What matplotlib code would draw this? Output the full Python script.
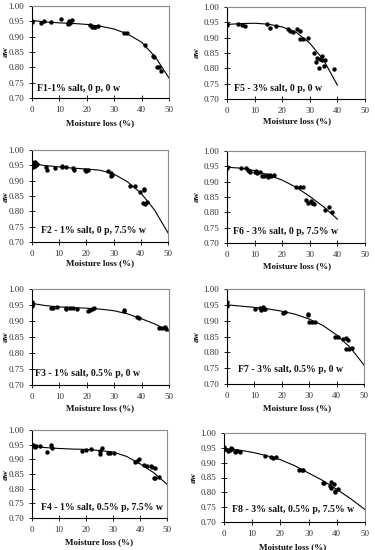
import matplotlib
matplotlib.use("Agg")
import matplotlib.pyplot as plt

plt.rcParams['font.family'] = ['Liberation Serif', 'DejaVu Serif']

W, H = 375, 550

# ---------------- data ----------------
titles = ["F1-1% salt, 0 p, 0 w", "F5 - 3% salt, 0 p, 0 w",
          "F2 - 1% salt, 0 p, 7.5% w", "F6 - 3% salt, 0 p, 7.5% w",
          "F3 - 1% salt, 0.5% p, 0 w", "F7 - 3% salt, 0.5% p, 0 w",
          "F4 - 1% salt, 0.5% p, 7.5% w", "F8 - 3% salt, 0.5% p, 7.5% w"]
xlabels = ["Moisture loss (%)"] * 7 + ["Moistute loss (%)"]
ylabel = "aw"
xticks = [0, 10, 20, 30, 40, 50]
yticks = [0.70, 0.75, 0.80, 0.85, 0.90, 0.95, 1.00]

f1_x = [0, 0, 3.4, 4.3, 6.9, 10.5, 13, 13.3, 13.6, 14, 14.5, 21, 21.8, 22.5, 23, 24, 33.5, 34.5, 41.3, 44.3, 44.7, 45.5, 46.5, 47.2]
f1_y = [0.952, 0.948, 0.946, 0.952, 0.948, 0.957, 0.945, 0.941, 0.95, 0.946, 0.955, 0.938, 0.933, 0.930, 0.932, 0.935, 0.911, 0.912, 0.873, 0.838, 0.834, 0.800, 0.800, 0.788]
f1_cx = [0, 5, 10, 15, 20, 25, 30, 35, 40, 45, 50]
f1_cy = [0.953, 0.948, 0.945, 0.943, 0.940, 0.934, 0.925, 0.908, 0.882, 0.834, 0.765]

f5_x = [0, 0, 3.9, 5.4, 6.6, 14.5, 15.7, 17.7, 22, 22.8, 24, 25.3, 26.3, 26.5, 27.5, 29.5, 31.7, 32.2, 32.7, 33.4, 33.6, 34.3, 34.6, 35.2, 35.4, 38.9]
f5_y = [0.945, 0.940, 0.943, 0.941, 0.937, 0.945, 0.932, 0.937, 0.929, 0.923, 0.917, 0.927, 0.921, 0.895, 0.895, 0.899, 0.850, 0.821, 0.833, 0.800, 0.832, 0.828, 0.839, 0.806, 0.826, 0.798]
f5_cx = [0, 5, 10, 15, 20, 25, 30, 35, 40]
f5_cy = [0.943, 0.946, 0.947, 0.944, 0.935, 0.918, 0.882, 0.827, 0.745]

f2_x = [0, 0.3, 0.5, 0, 0.5, 1, 1.5, 2, 1, 5, 5.5, 8.6, 11, 11, 12.5, 15, 15.5, 19.5, 20, 20.5, 28, 29, 29.5, 29.2, 36.2, 37.8, 39.6, 41, 41.3, 40.7, 41.5, 42.2]
f2_y = [0.962, 0.958, 0.955, 0.948, 0.945, 0.960, 0.950, 0.955, 0.948, 0.944, 0.936, 0.940, 0.949, 0.945, 0.945, 0.940, 0.935, 0.934, 0.930, 0.935, 0.933, 0.926, 0.920, 0.916, 0.882, 0.881, 0.862, 0.868, 0.873, 0.826, 0.825, 0.830]
f2_cx = [0, 5, 10, 15, 20, 25, 30, 35, 40, 45, 50]
f2_cy = [0.955, 0.949, 0.945, 0.941, 0.938, 0.934, 0.922, 0.897, 0.860, 0.805, 0.730]

f6_x = [0, 0, 4.9, 7, 7.5, 8, 8.5, 10, 10.5, 11, 12, 12.5, 13.5, 14.5, 15, 15.5, 16, 17, 25, 26.5, 27.5, 28.5, 29.5, 30.5, 31, 31.5, 30.7, 35.5, 37.1, 38]
f6_y = [0.948, 0.945, 0.943, 0.943, 0.938, 0.935, 0.932, 0.930, 0.935, 0.928, 0.933, 0.920, 0.918, 0.921, 0.916, 0.922, 0.918, 0.921, 0.883, 0.881, 0.884, 0.840, 0.829, 0.838, 0.832, 0.828, 0.831, 0.807, 0.816, 0.802]
f6_cx = [0, 5, 10, 15, 20, 25, 30, 35, 40]
f6_cy = [0.947, 0.944, 0.936, 0.922, 0.905, 0.882, 0.852, 0.818, 0.778]

f3_x = [0, 0, 0, 0, 7, 7.5, 9, 12.5, 12.5, 14, 15, 16.5, 20.5, 21, 22, 22.5, 33.5, 33.5, 38.5, 39, 46.5, 47.5, 48.5, 49]
f3_y = [0.960, 0.955, 0.948, 0.952, 0.942, 0.942, 0.943, 0.940, 0.937, 0.940, 0.940, 0.937, 0.930, 0.933, 0.938, 0.940, 0.930, 0.935, 0.912, 0.908, 0.877, 0.878, 0.880, 0.875]
f3_cx = [0, 5, 10, 15, 20, 25, 30, 35, 40, 45, 50]
f3_cy = [0.955, 0.948, 0.944, 0.942, 0.940, 0.937, 0.932, 0.922, 0.907, 0.890, 0.868]

f7_x = [0, 0, 10.4, 12, 12.5, 13, 13.5, 14, 20.5, 21, 29.5, 29.5, 30, 31, 32, 39.5, 40.5, 42.5, 43.5, 44, 43.5, 44.5, 45.5]
f7_y = [0.960, 0.947, 0.937, 0.940, 0.935, 0.942, 0.938, 0.936, 0.923, 0.926, 0.921, 0.917, 0.897, 0.897, 0.895, 0.847, 0.850, 0.843, 0.845, 0.840, 0.810, 0.812, 0.813]
f7_cx = [0, 5, 10, 15, 20, 25, 30, 35, 40, 45, 50]
f7_cy = [0.950, 0.946, 0.942, 0.937, 0.930, 0.920, 0.905, 0.885, 0.855, 0.815, 0.760]

f4_x = [0, 0, 0.5, 1, 1.5, 3, 5.6, 7, 7.5, 18.4, 20, 22, 25, 25, 26, 28, 29, 30.5, 38, 39, 39.5, 41.5, 42.5, 44, 44.5, 45.5, 45, 45.5, 47]
f4_y = [0.950, 0.945, 0.948, 0.943, 0.944, 0.946, 0.926, 0.950, 0.940, 0.930, 0.933, 0.935, 0.928, 0.918, 0.940, 0.922, 0.920, 0.920, 0.890, 0.895, 0.900, 0.880, 0.878, 0.878, 0.875, 0.870, 0.836, 0.838, 0.840]
f4_cx = [0, 5, 10, 15, 20, 25, 30, 35, 40, 45, 50]
f4_cy = [0.945, 0.940, 0.937, 0.935, 0.934, 0.930, 0.925, 0.910, 0.885, 0.855, 0.815]

f8_x = [0, 0, 0.5, 1.5, 2, 2.5, 3, 4, 4.5, 5.5, 14.5, 16.5, 17.5, 18.5, 26.5, 27.5, 28, 35, 35.5, 37.5, 38, 38, 39, 39.5, 39.5, 40.5]
f8_y = [0.952, 0.947, 0.945, 0.940, 0.944, 0.948, 0.945, 0.935, 0.940, 0.937, 0.922, 0.919, 0.917, 0.918, 0.875, 0.875, 0.874, 0.832, 0.830, 0.820, 0.835, 0.815, 0.828, 0.800, 0.805, 0.810]
f8_cx = [0, 5, 10, 15, 20, 25, 30, 35, 40, 45, 50]
f8_cy = [0.948, 0.943, 0.935, 0.924, 0.910, 0.890, 0.865, 0.840, 0.810, 0.778, 0.742]

panels = [(f1_x, f1_y, f1_cx, f1_cy), (f5_x, f5_y, f5_cx, f5_cy),
          (f2_x, f2_y, f2_cx, f2_cy), (f6_x, f6_y, f6_cx, f6_cy),
          (f3_x, f3_y, f3_cx, f3_cy), (f7_x, f7_y, f7_cx, f7_cy),
          (f4_x, f4_y, f4_cx, f4_cy), (f8_x, f8_y, f8_cx, f8_cy)]

# ---------------- layout (pixels: left, right, top, bottom) ----------------
boxes = [(32, 169, 6, 98), (227, 365, 7, 99),
         (32, 168, 150, 242), (227, 365, 151, 243),
         (32, 169, 289, 385), (227, 364, 289, 384),
         (32, 167, 430, 518), (224, 365, 433, 522)]
title_pos = [(0.04, 0.10), (0.05, 0.11), (0.065, 0.13), (0.04, 0.12),
             (0.02, 0.125), (0.08, 0.15), (0.07, 0.125), (0.057, 0.146)]
xlab_pos = [(100, 123), (297, 121), (100, 263), (297, 266),
            (100, 408), (297, 408), (99, 542), (293, 547)]
ylab_x = [6, 197, 6, 197, 6, 197, 6, 194]

fig = plt.figure(figsize=(W / 100, H / 100), dpi=100)

for i, (xs, ys, cx, cy) in enumerate(panels):
    l, r, t, b = boxes[i]
    ax = fig.add_axes([l / W, 1 - b / H, (r - l) / W, (b - t) / H])
    ax.plot(cx, cy, color='black', lw=0.8, zorder=2)
    ax.scatter(xs, ys, s=10, color='black', zorder=3, linewidths=0)
    ax.set_xlim(0, 50)
    ax.set_ylim(0.70, 1.00)
    ax.set_xticks(xticks)
    ax.set_yticks(yticks)
    ax.set_yticklabels([f"{v:.2f}" for v in yticks])
    ax.tick_params(direction='inout', length=4, width=0.6, labelsize=6.5,
                   colors='black', labelcolor='#333333', pad=3.5)
    for s in ['left', 'bottom']:
        ax.spines[s].set_color('black')
        ax.spines[s].set_linewidth(0.8)
    for s in ['top', 'right']:
        ax.spines[s].set_color('#8c8c8c')
        ax.spines[s].set_linewidth(0.8)
    ax.text(title_pos[i][0], title_pos[i][1], titles[i], transform=ax.transAxes,
            ha='left', va='center', fontsize=7, fontweight='bold', color='#111111')
    fig.text(xlab_pos[i][0] / W, 1 - xlab_pos[i][1] / H, xlabels[i],
             ha='center', va='center', fontsize=6.5, fontweight='bold', color='#111111')
    fig.text(ylab_x[i] / W, 1 - (t + b) / 2 / H, ylabel, rotation=90,
             ha='center', va='center', fontsize=6.5, fontweight='bold', color='#111111')

fig.savefig("out.png", dpi=100, facecolor='white')
